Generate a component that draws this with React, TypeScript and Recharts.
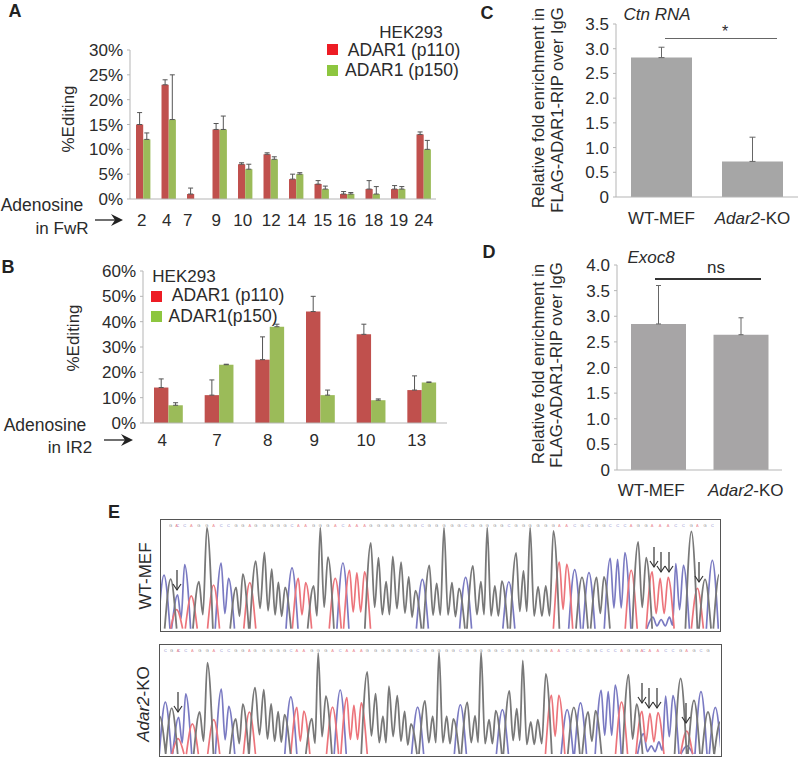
import React from "react";
import {
  BarChart, Bar, XAxis, YAxis, ErrorBar, ComposedChart, Line, Scatter,
} from "recharts";

const FONT = '"Liberation Sans", Arial, sans-serif';
const TEXT = "#2b2b2b";
const RED = "#c0504d";
const GREEN = "#9bbb59";

// Panel A
const catsA = ["2", "4", "7", "9", "10", "12", "14", "15", "16", "18", "19", "24"];
const p110A = [15, 23, 1, 14, 7, 9, 4, 3, 1, 2, 2, 13];
const p150A = [12, 16, 0, 14, 6, 8, 5, 2, 1, 1, 2, 10];
const p110ErrA = [2.4, 1, 1.2, 1.2, 0.3, 0.3, 1, 0.7, 0.5, 1.7, 0.7, 0.5];
const p150ErrA = [1.3, 9, 0, 2.7, 1, 0.5, 0.3, 0.6, 0.3, 1.5, 0.5, 1.8];
const ticksA = [0, 5, 10, 15, 20, 25, 30];
const shiftA = [-1, -1.5, -6, -3, -2, 1, 1, 1.5, 0, 1.5, 1, 0.5];

// Panel B
const catsB = ["4", "7", "8", "9", "10", "13"];
const p110B = [14, 11, 25, 44, 35, 13];
const p150B = [7, 23, 38, 11, 9, 16];
const p110ErrB = [3.4, 6, 9, 6, 4, 5.6];
const p150ErrB = [1, 0.2, 1, 2, 0.5, 0.2];
const ticksB = [0, 10, 20, 30, 40, 50, 60];
const shiftB = [-6, -2, -2, -6, -5, -5];

// Panels C and D
const catsCD = ["WT-MEF", "Adar2-KO"];
const valuesC = [2.82, 0.72];
const errC = [0.21, 0.49];
const ticksC = [0, 0.5, 1, 1.5, 2, 2.5, 3, 3.5];
const valuesD = [2.85, 2.64];
const errD = [0.75, 0.33];
const ticksD = [0, 0.5, 1, 1.5, 2, 2.5, 3, 3.5, 4];
const shiftD = [-7, 5];

// Panel E: chromatogram peaks, [scan, intensity]
const wtGray = [[210,151],[295,143],[319,308],[407,126],[427,166],[466,206],[492,232],[514,181],[534,141],[554,126],[640,130],[660,308],[683,218],[812,261],[835,216],[858,143],[878,220],[903,203],[926,158],[946,116],[988,193],[1010,138],[1032,308],[1056,140],[1077,123],[1119,191],[1143,143],[1162,308],[1185,130],[1206,145],[1249,231],[1271,176],[1291,308],[1315,128],[1338,130],[1361,298],[1447,156],[1491,156],[1513,158],[1616,264],[1640,216],[1776,296],[1817,150],[1860,166]];
const wtBlue = [[190,163],[231,103],[252,195],[362,200],[384,153],[575,185],[728,200],[967,150],[1097,156],[1227,143],[1425,180],[1468,171],[1532,214],[1554,211],[1576,232],[1660,35],[1685,28],[1710,35],[1729,198],[1752,193],[1839,208]];
const wtRed = [[228,58],[272,100],[339,133],[448,140],[594,153],[616,140],[705,153],[748,178],[770,170],[793,173],[1379,203],[1401,196],[1595,178],[1658,173],[1682,153],[1706,156],[1794,123]];
const koGray = [[180,115],[216,140],[300,128],[323,278],[408,107],[429,152],[466,202],[492,196],[514,153],[535,129],[554,120],[636,108],[655,308],[678,176],[802,250],[827,184],[849,115],[867,207],[892,178],[914,130],[933,92],[975,162],[998,115],[1017,310],[1040,115],[1060,107],[1102,157],[1125,117],[1143,310],[1167,105],[1187,132],[1228,192],[1250,138],[1268,285],[1292,98],[1313,105],[1337,244],[1421,142],[1464,128],[1486,132],[1585,242],[1609,152],[1741,230],[1781,163],[1823,128],[1860,98]];
const koBlue = [[197,158],[237,112],[258,183],[365,198],[387,145],[573,174],[721,195],[953,143],[1081,150],[1207,135],[1401,135],[1441,156],[1503,194],[1524,190],[1545,210],[1630,62],[1653,25],[1676,37],[1696,176],[1718,178],[1760,25],[1802,190],[1845,142]];
const koRed = [[235,47],[278,92],[342,105],[449,128],[591,142],[612,131],[698,143],[741,172],[762,148],[784,156],[1354,179],[1376,179],[1564,158],[1625,130],[1649,124],[1673,126],[1759,70]];

const toPairs = (cats: string[], a: number[], b: number[], ea: number[], eb: number[]) =>
  cats.map((c, i) => ({
    cat: c, a: a[i], b: b[i],
    ea: [0, ea[i]],
    eb: eb[i] ? [0, eb[i]] : undefined,
  }));
const toSingle = (cats: string[], v: number[], e: number[]) =>
  cats.map((c, i) => ({ cat: c, v: v[i], e: [0, e[i]] }));

function CatTick({ x, y, payload, index, shift, drop }: any) {
  const label: string = payload.value;
  const dx = shift ? shift[index] ?? 0 : 0;
  const italic = label.startsWith("Adar2");
  return (
    <text x={x + dx} y={y + drop} textAnchor="middle" dominantBaseline="central" fontFamily={FONT} fontSize={17} fill={TEXT}>
      {italic ? (<><tspan fontStyle="italic">Adar2</tspan>-KO</>) : label}
    </text>
  );
}

const axisLine = { stroke: "#b5b5b5", strokeWidth: 1 };
const yTick = { fontFamily: FONT, fontSize: 17, fill: TEXT };

function Chart({ left, top, plotLeft, plotRight, plotTop, plotBottom, data, max, ticks, fmt, shift, drop, barSize, barGap, children }: any) {
  const chartW = plotRight - left + 4;
  const chartH = plotBottom - top + 32;
  return (
    <div style={{ position: "absolute", left, top }}>
      <BarChart
        width={chartW} height={chartH} data={data}
        margin={{ top: plotTop - top, right: 4, bottom: 0, left: 0 }}
        barSize={barSize} barGap={barGap}
      >
        <XAxis
          dataKey="cat" height={32} interval={0} axisLine={axisLine} tickLine={false}
          tick={<CatTick shift={shift} drop={drop} />}
        />
        <YAxis
          width={plotLeft - left} domain={[0, max]} ticks={ticks} interval={0}
          tickFormatter={fmt} axisLine={axisLine}
          tickLine={{ stroke: "#b5b5b5" }} tickSize={3} tickMargin={4} tick={yTick}
        />
        {children}
      </BarChart>
    </div>
  );
}

function T({ x, y, size = 17, rot = 0, weight, italic, color = TEXT, children }: any) {
  return (
    <div style={{
      position: "absolute", left: x, top: y, whiteSpace: "nowrap", fontFamily: FONT, fontSize: size,
      lineHeight: 1, color, fontWeight: weight, fontStyle: italic ? "italic" : undefined,
      transform: `translate(-50%,-50%) rotate(${rot}deg)`,
    }}>{children}</div>
  );
}

const Sq = ({ x, y, c }: any) => (
  <div style={{ position: "absolute", left: x, top: y, width: 10.5, height: 10.5, background: c }} />
);

const HLine = ({ x1, x2, y, c = "#555", h = 1 }: any) => (
  <div style={{ position: "absolute", left: x1, top: y, width: x2 - x1, height: h, background: c }} />
);

function Arrow({ x1, x2, y }: any) {
  return (
    <svg style={{ position: "absolute", left: 0, top: 0, pointerEvents: "none" }} width={800} height={759}>
      <line x1={x1} y1={y} x2={x2 - 3} y2={y} stroke="#222" strokeWidth={1.3} />
      <path d={`M${x2},${y} L${x2 - 12},${y - 6} L${x2 - 8},${y} L${x2 - 12},${y + 6} Z`} fill="#222" />
    </svg>
  );
}

function DownArrows({ list }: { list: number[][] }) {
  return (
    <svg style={{ position: "absolute", left: 0, top: 0, pointerEvents: "none" }} width={800} height={759}>
      {list.map(([x, y1, y2], i) => (
        <g key={i} fill="none" stroke="#333" strokeWidth={1.2}>
          <line x1={x} y1={y1} x2={x} y2={y2} />
          <polyline points={`${x - 4},${y2 - 6} ${x},${y2} ${x + 4},${y2 - 6}`} />
        </g>
      ))}
    </svg>
  );
}

// Turn a peak list into the points of one trace; separate peaks are broken apart so no baseline is drawn.
function trace(peaks: number[][]) {
  const half = 18;
  const out: { x: number; y: number | null }[] = [];
  peaks.forEach(([x, h], i) => {
    const prev = peaks[i - 1];
    const next = peaks[i + 1];
    if (!prev || x - prev[0] > 30) out.push({ x: x - half, y: 0 });
    out.push({ x, y: h });
    if (next && next[0] - x <= 30) {
      out.push({ x: (x + next[0]) / 2, y: Math.min(h, next[1]) * 0.3 });
    } else {
      out.push({ x: x + half, y: 0 });
      out.push({ x: x + half + 0.5, y: null });
    }
  });
  return out;
}

function baseRow(gray: number[][], blue: number[][], red: number[][], level: number) {
  const tag = (arr: number[][], base: string, color: string) =>
    arr.filter((p) => p[1] > 40 && p[0] > 195 && p[0] < 1845).map((p) => ({ x: p[0], y: level, base, color }));
  return [...tag(gray, "G", "#666"), ...tag(blue, "C", "#6a6ac0"), ...tag(red, "A", "#e8707a")];
}

const BaseMark = ({ cx, cy, payload }: any) => (
  <text x={cx} y={cy} fontSize={4} fontFamily={FONT} textAnchor="middle" dominantBaseline="central" fill={payload.color} opacity={0.8}>
    {payload.base}
  </text>
);

function Chromatogram({ left, top, width, height, gray, blue, red, floor, ceil, level }: any) {
  return (
    <div style={{ position: "absolute", left, top, width, height, boxSizing: "border-box", border: "1.5px solid #555", background: "#fff" }}>
      <ComposedChart width={width - 3} height={height - 3} margin={{ top: 0, right: 0, bottom: 0, left: 0 }}>
        <XAxis type="number" dataKey="x" domain={[181, 1859]} hide allowDataOverflow />
        <YAxis type="number" dataKey="y" domain={[floor, ceil]} hide allowDataOverflow />
        <Line data={trace(blue)} dataKey="y" type="monotone" dot={false} stroke="#7a7ac2" strokeWidth={1.7} isAnimationActive={false} />
        <Line data={trace(red)} dataKey="y" type="monotone" dot={false} stroke="#ec747b" strokeWidth={1.7} isAnimationActive={false} />
        <Line data={trace(gray)} dataKey="y" type="monotone" dot={false} stroke="#787878" strokeWidth={1.8} isAnimationActive={false} />
        <Scatter data={baseRow(gray, blue, red, level)} dataKey="y" shape={<BaseMark />} isAnimationActive={false} />
      </ComposedChart>
    </div>
  );
}

export default function App() {
  const pct = (v: number) => `${v}%`;
  const dec = (v: number) => (v === 0 ? "0" : v.toFixed(1));
  return (
    <div style={{ position: "absolute", left: 0, top: 0, width: 800, height: 759, overflow: "hidden", background: "#fff", fontFamily: FONT }}>
      {/* A */}
      <Chart left={60} top={40} plotLeft={130} plotRight={436} plotTop={50} plotBottom={199}
        data={toPairs(catsA, p110A, p150A, p110ErrA, p150ErrA)} max={30} ticks={ticksA} fmt={pct} shift={shiftA} drop={13}
        barSize={7.2} barGap={0}>
        <Bar dataKey="a" fill={RED} isAnimationActive={false}>
          <ErrorBar dataKey="ea" width={2.5} stroke="#555" strokeWidth={1} direction="y" />
        </Bar>
        <Bar dataKey="b" fill={GREEN} isAnimationActive={false}>
          <ErrorBar dataKey="eb" width={2.5} stroke="#555" strokeWidth={1} direction="y" />
        </Bar>
      </Chart>
      <T x={15} y={11} size={18} weight="bold" color="#222">A</T>
      <T x={68} y={119} rot={-90}>%Editing</T>
      <T x={411} y={32}>HEK293</T>
      <Sq x={327} y={44} c="#ed1c24" />
      <Sq x={327} y={65} c="#8dc63f" />
      <T x={404} y={50.5} size={17.5}>ADAR1 (p110)</T>
      <T x={402} y={70.5} size={17.5}>ADAR1 (p150)</T>
      <T x={42} y={206} size={17.5}>Adenosine</T>
      <T x={62} y={228}>in FwR</T>
      <Arrow x1={95} x2={123} y={220} />

      {/* B */}
      <Chart left={75} top={260} plotLeft={143} plotRight={447} plotTop={271} plotBottom={423}
        data={toPairs(catsB, p110B, p150B, p110ErrB, p150ErrB)} max={60} ticks={ticksB} fmt={pct} shift={shiftB} drop={9}
        barSize={14.4} barGap={0}>
        <Bar dataKey="a" fill={RED} isAnimationActive={false}>
          <ErrorBar dataKey="ea" width={2.5} stroke="#555" strokeWidth={1} direction="y" />
        </Bar>
        <Bar dataKey="b" fill={GREEN} isAnimationActive={false}>
          <ErrorBar dataKey="eb" width={2.5} stroke="#555" strokeWidth={1} direction="y" />
        </Bar>
      </Chart>
      <T x={8} y={267} size={18} weight="bold" color="#222">B</T>
      <T x={73} y={338} rot={-90}>%Editing</T>
      <T x={184} y={276}>HEK293</T>
      <Sq x={151} y={291} c="#ed1c24" />
      <Sq x={151} y={311} c="#8dc63f" />
      <T x={228} y={296} size={17.5}>ADAR1 (p110)</T>
      <T x={223} y={317} size={17.5}>ADAR1(p150)</T>
      <T x={45} y={426} size={17.5}>Adenosine</T>
      <T x={70} y={447}>in IR2</T>
      <Arrow x1={104} x2={133} y={440} />

      {/* C */}
      <Chart left={570} top={10} plotLeft={616} plotRight={798} plotTop={24} plotBottom={197}
        data={toSingle(catsCD, valuesC, errC)} max={3.5} ticks={ticksC} fmt={dec} drop={13}
        barSize={61}>
        <Bar dataKey="v" fill="#a6a6a6" isAnimationActive={false}>
          <ErrorBar dataKey="e" width={3} stroke="#666" strokeWidth={1} direction="y" />
        </Bar>
      </Chart>
      <T x={487} y={13} size={18} weight="bold" color="#222">C</T>
      <T x={538} y={108} rot={-90}>Relative fold enrichment in</T>
      <T x={558} y={110} rot={-90} size={16.6}>FLAG-ADAR1-RIP over IgG</T>
      <T x={657} y={14} italic>Ctn RNA</T>
      <HLine x1={665} x2={777} y={38} c="#666" />
      <T x={725} y={32} size={16}>*</T>

      {/* D */}
      <Chart left={570} top={250} plotLeft={617} plotRight={782} plotTop={265} plotBottom={470}
        data={toSingle(catsCD, valuesD, errD)} max={4} ticks={ticksD} fmt={dec} shift={shiftD} drop={12}
        barSize={55}>
        <Bar dataKey="v" fill="#a7a5a6" isAnimationActive={false}>
          <ErrorBar dataKey="e" width={2.5} stroke="#666" strokeWidth={1} direction="y" />
        </Bar>
      </Chart>
      <T x={489} y={252} size={18} weight="bold" color="#222">D</T>
      <T x={538} y={364} rot={-90}>Relative fold enrichment in</T>
      <T x={557} y={365} rot={-90} size={16.6}>FLAG-ADAR1-RIP over IgG</T>
      <T x={651} y={257} italic>Exoc8</T>
      <HLine x1={655} x2={761} y={278} c="#333" h={2} />
      <T x={716} y={267}>ns</T>

      {/* E */}
      <T x={114} y={512} size={18} weight="bold" color="#222">E</T>
      <T x={145} y={576} rot={-90}>WT-MEF</T>
      <T x={143} y={704} rot={-90}><i>Adar2</i>-KO</T>
      <Chromatogram left={160} top={519} width={561} height={113} gray={wtGray} blue={wtBlue} red={wtRed} floor={-4} ceil={331} level={313} />
      <Chromatogram left={159} top={644} width={563} height={113} gray={koGray} blue={koBlue} red={koRed} floor={-3} ceil={332} level={315} />
      <DownArrows list={[
        [177, 570, 590], [654, 547, 567], [661, 552, 572], [669, 552, 572], [699, 562, 582],
        [178, 692, 712], [642, 683, 703], [649, 688, 708], [657, 688, 708], [686, 703, 723],
      ]} />
    </div>
  );
}
